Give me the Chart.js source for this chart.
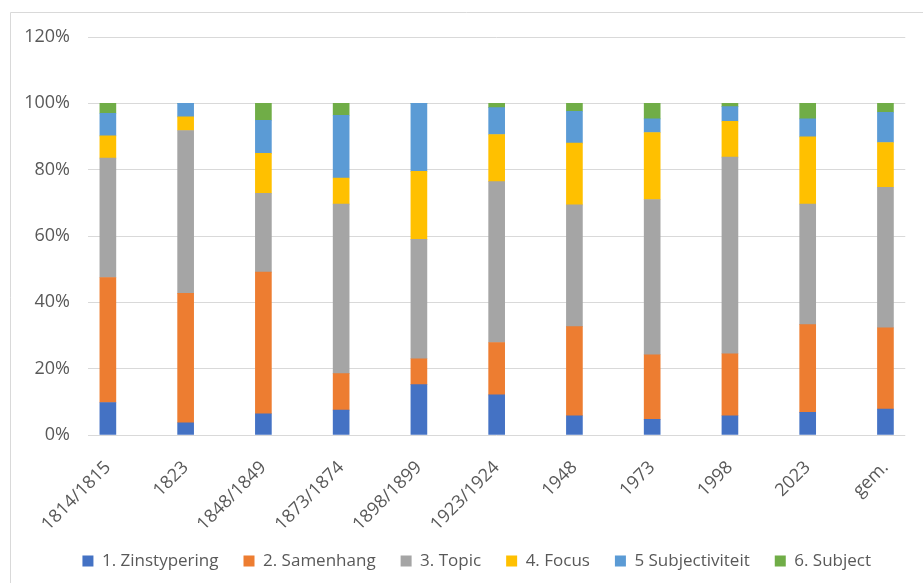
<!DOCTYPE html>
<html><head><meta charset="utf-8">
<script src="https://cdn.jsdelivr.net/npm/chart.js@4"></script>
<style>html,body{margin:0;padding:0;background:#fff;}canvas{display:block;}</style>
</head><body>
<canvas id="c" width="923" height="583"></canvas>
<script>
const categories = ['1814/1815','1823','1848/1849','1873/1874','1898/1899','1923/1924','1948','1973','1998','2023','gem.'];
const seriesNames = ['1. Zinstypering','2. Samenhang','3. Topic','4. Focus','5 Subjectiviteit','6. Subject'];
const zinstypering   = [9.8, 3.7, 6.4, 7.5, 15.2, 12.1, 5.8, 4.7, 5.8, 6.8, 7.8];
const samenhang      = [37.7, 39.0, 42.7, 11.0, 7.8, 15.8, 26.9, 19.5, 18.7, 26.5, 24.5];
const topic          = [36.0, 49.1, 23.8, 51.1, 36.0, 48.5, 36.7, 46.8, 59.3, 36.3, 42.4];
const focus          = [6.7, 4.1, 12.0, 7.9, 20.5, 14.2, 18.6, 20.2, 10.8, 20.3, 13.5];
const subjectiviteit = [6.8, 4.1, 10.0, 18.9, 20.5, 8.1, 9.6, 4.1, 4.4, 5.4, 9.1];
const subject        = [3.0, 0, 5.1, 3.6, 0, 1.3, 2.4, 4.7, 1.0, 4.7, 2.7];
const yTicks = [0, 20, 40, 60, 80, 100, 120];

const seriesValues = [zinstypering, samenhang, topic, focus, subjectiviteit, subject];
const colors = ['#4472C4','#ED7D31','#A5A5A5','#FFC000','#5B9BD5','#70AD47'];
const FONT = "'Open Sans', sans-serif";
const TXT = '#595959';

const framePlugin = {
  id: 'frame',
  afterLayout(chart) {
    if (chart.legend) { chart.legend.left += 8.5; chart.legend.right += 8.5; }
  },
  beforeDraw(chart) {
    const c = chart.ctx;
    c.save();
    c.strokeStyle = '#d9d9d9';
    c.lineWidth = 1;
    c.beginPath();
    c.moveTo(10.5, 583); c.lineTo(10.5, 12.5); c.lineTo(923, 12.5);
    c.stroke();
    c.restore();
  }
};

new Chart(document.getElementById('c'), {
  type: 'bar',
  data: {
    datasets: seriesNames.map((name, k) => ({
      label: name,
      data: seriesValues[k].map((v, i) => ({x: i, y: v})),
      backgroundColor: colors[k],
      borderWidth: 0,
      barThickness: 16
    }))
  },
  options: {
    responsive: false,
    animation: false,
    layout: {padding: {left: 25, right: 11.5, top: 37, bottom: 3.5}},
    plugins: {
      legend: {
        position: 'bottom',
        labels: {font: {family: FONT, size: 17}, color: TXT, boxWidth: 11, boxHeight: 11, padding: 25}
      },
      tooltip: {enabled: false}
    },
    scales: {
      x: {
        type: 'linear',
        stacked: true,
        min: -0.262,
        max: 10.255,
        offset: false,
        grid: {display: false, offset: false, drawTicks: false},
        border: {display: false},
        afterFit(s) { s.height = 92.5; },
        afterBuildTicks(s) { s.ticks = categories.map((c, i) => ({value: i})); },
        ticks: {
          autoSkip: false, maxRotation: 45, minRotation: 45,
          font: {family: FONT, size: 18}, color: TXT, padding: 22,
          callback: (v) => categories[v] !== undefined ? categories[v] : ''
        }
      },
      y: {
        stacked: true,
        min: 0, max: 120,
        afterBuildTicks(s) { s.ticks = yTicks.map(v => ({value: v})); },
        afterFit(s) { s.width = 62.5; },
        grid: {color: '#d9d9d9', drawTicks: false},
        border: {display: false},
        ticks: {font: {family: FONT, size: 18}, color: TXT, padding: 17.5, callback: v => v + '%'}
      }
    }
  },
  plugins: [framePlugin]
});
</script>
</body></html>
